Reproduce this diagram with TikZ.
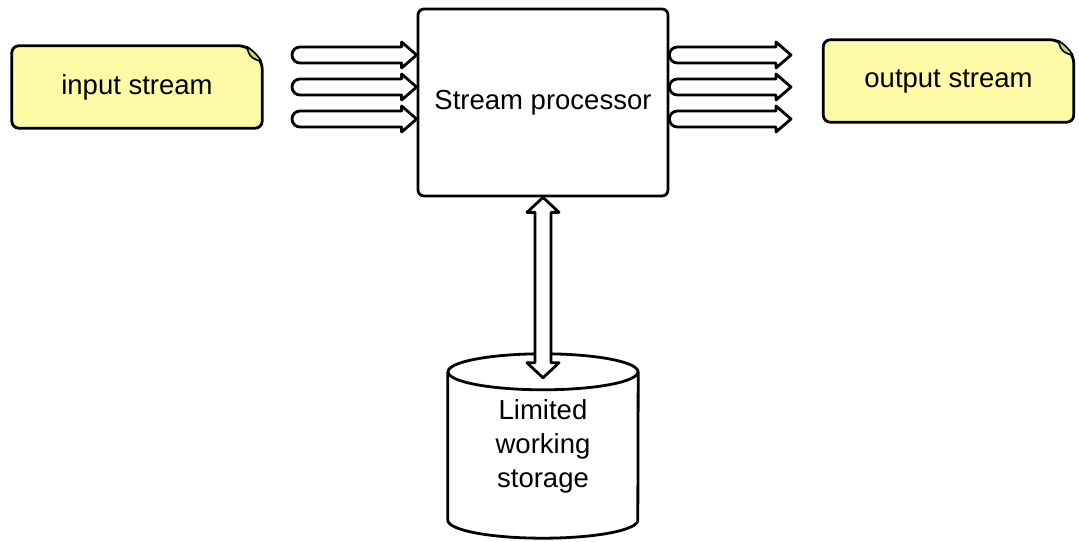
\documentclass[tikz,border=0pt]{standalone}
\usepackage{fontspec}
\setmainfont{Liberation Sans}
\usetikzlibrary{calc,backgrounds}
\definecolor{noteyellow}{RGB}{255,250,165}
\definecolor{notefold}{RGB}{215,208,120}
\tikzset{
  outline/.style={draw=black,line width=2.8pt,line join=round},
  labeltext/.style={font=\fontsize{27.5}{34}\selectfont,text=black,inner sep=0pt,align=center},
  notebox/.style={labeltext,minimum width=250pt,minimum height=82pt},
  procbox/.style={labeltext,outline,fill=white,rounded corners=6pt,minimum width=250pt,minimum height=187pt},
  storebox/.style={labeltext,minimum width=190pt,minimum height=148pt},
  flow/.style={outline,fill=white},
}
% hollow right-pointing arrow with a rounded tail, from #1 to the x of #2
\newcommand\flowarrow[2]{%
  \draw[flow] let \p1=(#1), \p2=(#2) in
    (\x1+8pt,\y1+8pt) -- (\x2-15pt,\y1+8pt) -- (\x2-15pt,\y1+13pt) -- (\x2,\y1)
    -- (\x2-15pt,\y1-13pt) -- (\x2-15pt,\y1-8pt) -- (\x1+8pt,\y1-8pt)
    arc[start angle=270,end angle=90,radius=8pt] -- cycle;}
% note outline with a folded top-right corner
\newcommand\noteoutline[1]{%
  \draw[outline,fill=noteyellow,rounded corners=7pt]
    (#1.south west) -- (#1.north west) -- ([xshift=-16pt]#1.north east)
    -- ([yshift=-16pt]#1.north east) -- (#1.south east) -- cycle;
  \draw[line width=1.6pt,fill=notefold,line join=round]
    ([xshift=-15pt,yshift=-1pt]#1.north east)
    .. controls ([xshift=-14pt,yshift=-12pt]#1.north east) and ([xshift=-6pt,yshift=-15pt]#1.north east)
    .. ([xshift=-1pt,yshift=-15pt]#1.north east)
    .. controls ([xshift=-5pt,yshift=-9pt]#1.north east) and ([xshift=-9pt,yshift=-5pt]#1.north east)
    .. cycle;}
\begin{document}
\begin{tikzpicture}[x=1pt,y=1pt]
  \useasboundingbox (0,0) rectangle (1079,541);

  % main nodes
  \node[notebox] (in) at (137,454) {input stream};
  \node[notebox] (out) at (948.5,460) {output stream};
  \node[procbox] (proc) at (543,438.5) {Stream processor};
  \node[storebox] (store) at (543,95) {Limited\\working\\storage};

  % free ends of the stream arrows
  \coordinate (ia1) at (292,486);
  \coordinate (ia2) at (292,454);
  \coordinate (ia3) at (292,422);
  \coordinate (oa1) at (791,486);
  \coordinate (oa2) at (791,454);
  \coordinate (oa3) at (791,422);

  \begin{scope}[on background layer]
    \fill[white] (0,0) rectangle (1079,541);
    \noteoutline{in}
    \noteoutline{out}
    % storage cylinder
    \draw[outline,fill=white] (store.north west) -- (store.south west)
      arc[start angle=180,end angle=360,x radius=95pt,y radius=18pt] -- (store.north east);
    \draw[outline] (store.north) ellipse[x radius=95pt,y radius=18pt];
    % incoming stream
    \flowarrow{ia1}{proc.west |- ia1}
    \flowarrow{ia2}{proc.west |- ia2}
    \flowarrow{ia3}{proc.west |- ia3}
  \end{scope}

  % outgoing stream
  \flowarrow{proc.east |- oa1}{oa1}
  \flowarrow{proc.east |- oa2}{oa2}
  \flowarrow{proc.east |- oa3}{oa3}

  % two-way link between processor and storage
  \coordinate (tipb) at ([yshift=-6pt]store.north);
  \draw[flow] let \p1=(proc.south), \p2=(tipb) in
    (\x1,\y1) -- (\x1+16pt,\y1-15pt) -- (\x1+8pt,\y1-15pt) -- (\x1+8pt,\y2+15pt)
    -- (\x1+16pt,\y2+15pt) -- (\x1,\y2) -- (\x1-16pt,\y2+15pt) -- (\x1-8pt,\y2+15pt)
    -- (\x1-8pt,\y1-15pt) -- (\x1-16pt,\y1-15pt) -- cycle;
\end{tikzpicture}
\end{document}
